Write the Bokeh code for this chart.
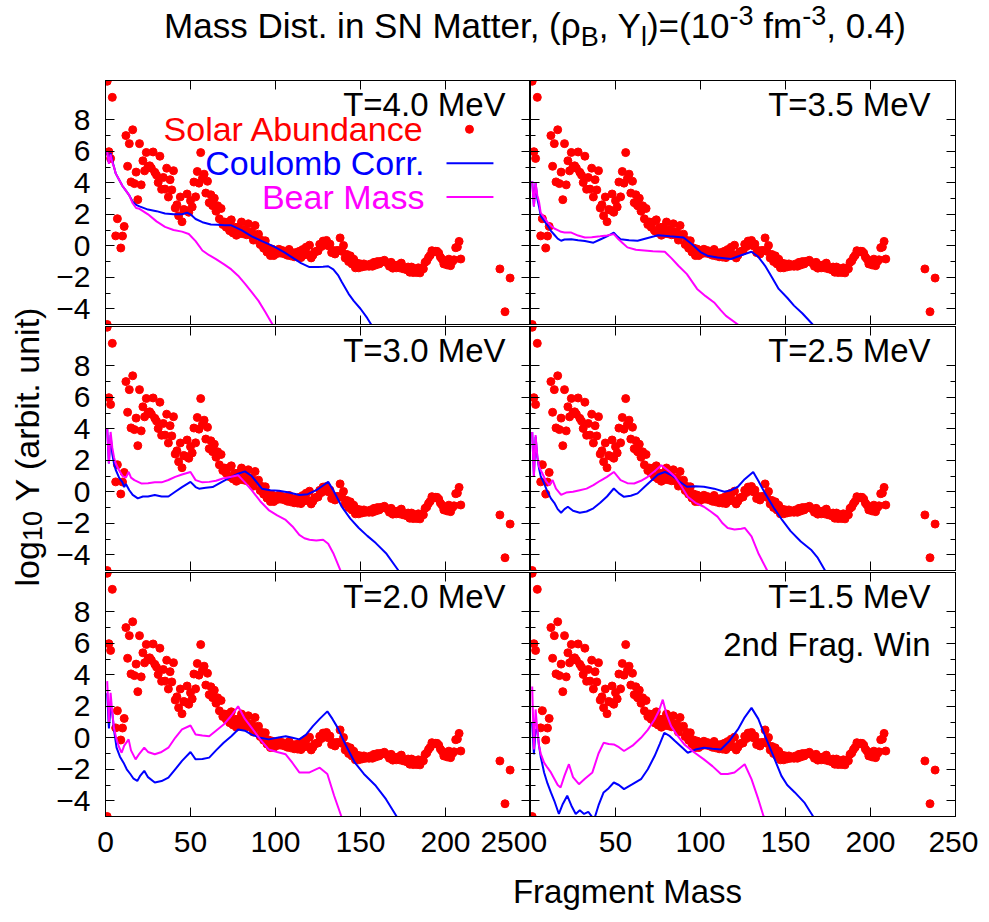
from bokeh.plotting import figure
from bokeh.layouts import column, row
from bokeh.models import Div, Label, FixedTicker, LinearAxis, Range1d
from bokeh.embed import file_html
from bokeh.resources import INLINE
import math

FONT = "Liberation Sans"

# ---------------- data ----------------
TEMPS = ["T=4.0 MeV", "T=3.5 MeV", "T=3.0 MeV", "T=2.5 MeV", "T=2.0 MeV", "T=1.5 MeV"]

SOLAR_A = [1, 1, 2, 3, 4, 6, 7, 9, 10, 11] + list(range(12, 210)) + [232, 235, 238]
SOLAR_LOGY = [10.45, -5.0, 5.98, 5.55, 9.43, 0.63, 1.72, -0.14, 0.62, 1.23,
    # 12-29
    7.00, 5.05, 6.49, 4.06, 7.37, 3.95, 4.68, 2.93, 6.49, 3.87, 5.40, 4.76, 5.93, 5.03, 5.08, 4.93, 5.96, 4.67,
    # 30-49
    4.49, 4.02, 5.69, 3.59, 4.34, 3.60, 4.93, 3.10, 4.20, 3.55, 4.77, 2.40, 2.60, 1.91, 3.10, 1.53, 2.31, 2.26, 3.29, 2.13,
    # 50-69
    2.86, 2.47, 4.05, 3.11, 4.72, 3.98, 5.92, 4.28, 4.55, 3.35, 4.10, 2.74, 3.24, 2.55, 3.02, 2.20, 2.54, 1.71, 2.37, 1.35,
    # 70-89
    1.51, 1.18, 1.51, 0.96, 1.65, 0.82, 1.18, 0.67, 1.18, 0.78, 1.51, 0.76, 1.03, 0.70, 1.40, 0.71, 0.89, 0.36, 1.29, 0.67,
    # 90-109
    0.74, 0.08, 0.34, -0.15, 0.32, -0.40, -0.14, -0.62, -0.21, -0.62, -0.32, -0.49, -0.22, -0.46, -0.30, -0.51, -0.42, -0.60, -0.23, -0.64,
    # 110-129
    -0.44, -0.70, -0.43, -0.72, -0.35, -0.75, -0.24, -0.58, -0.09, -0.54, 0.04, -0.77, -0.60, -0.40, -0.35, -0.33, 0.09, -0.05, 0.30, 0.09,
    # 130-149
    0.34, 0.00, 0.11, -0.43, -0.30, -0.52, -0.30, -0.30, 0.50, -0.35, 0.02, -0.77, -0.55, -1.00, -0.64, -1.15, -0.85, -1.40, -1.10, -1.40,
    # 150-169
    -1.15, -1.34, -1.15, -1.30, -1.22, -1.30, -1.15, -1.30, -1.05, -1.22, -1.00, -1.15, -0.99, -1.00, -0.92, -1.05, -1.10, -1.30, -1.05, -1.42,
    # 170-189
    -1.22, -1.40, -1.22, -1.40, -1.10, -1.46, -1.40, -1.52, -1.35, -1.68, -1.35, -1.70, -1.46, -1.70, -1.40, -1.72, -1.40, -1.46, -1.05, -0.96,
    # 190-209
    -0.74, -0.60, -0.31, -0.39, -0.35, -0.35, -0.46, -0.72, -0.85, -1.15, -1.00, -1.22, -0.85, -1.26, -1.00, -0.89, -0.12, -0.08, 0.28, -0.84,
    # 232, 235, 238
    -1.47, -4.19, -2.05]

# Coulomb-corrected mass (blue) and bare mass (magenta), (A, log10 Y)
COUL_40 = [(1,6.0),(2,5.3),(3,5.9),(4,5.4),(5,5.0),(6,4.6),(8,4.2),(10,3.8),(12,3.5),(14,3.2),(16,2.8),(18,2.6),(20,2.5),
           (25,2.3),(30,2.2),(35,2.05),(40,2.0),(45,2.0),(48,2.1),(50,2.0),(53,1.7),(57,1.5),(62,1.35),(66,1.33),(70,1.3),
           (74,1.3),(80,1.0),(86,0.6),(92,0.3),(96,0.1),(100,-0.1),(105,-0.4),(110,-0.75),(115,-1.1),(120,-1.35),(125,-1.35),
           (128,-1.33),(131,-1.3),(134,-1.5),(137,-1.9),(139,-2.3),(143,-3.05),(146,-3.5),(150,-4.0),(154,-4.6),(158,-5.3)]
BARE_40 = [(1,6.0),(2,5.2),(3,5.8),(4,5.3),(5,5.0),(6,4.6),(8,4.2),(10,3.8),(12,3.5),(14,3.2),(16,2.7),(18,2.4),(20,2.35),
           (25,2.0),(30,1.55),(35,1.2),(40,1.0),(45,0.9),(49,0.75),(53,0.3),(57,-0.3),(61,-0.6),(65,-0.85),(70,-1.2),
           (74,-1.5),(78,-1.9),(82,-2.4),(86,-2.95),(90,-3.5),(94,-4.2),(98,-4.95),(100,-5.4)]

COUL_35 = [(1,4.1),(2,2.5),(3,4.0),(4,3.0),(5,2.5),(6,1.9),(8,1.6),(10,1.3),(12,0.95),(14,0.7),(16,0.45),(18,0.32),(20,0.4),
           (24,0.42),(28,0.35),(32,0.3),(37,0.2),(41,0.4),(45,0.6),(49,0.84),(51,0.6),(53,0.42),(58,0.35),(63,0.32),(69,0.5),
           (75,0.67),(82,0.6),(90,0.53),(95,0.1),(100,-0.4),(104,-0.63),(110,-0.75),(118,-0.84),(124,-0.6),(130,-0.38),
           (134,-0.7),(138,-1.27),(142,-2.0),(146,-2.74),(151,-3.3),(155,-3.8),(160,-4.3),(166,-5.0),(168,-5.4)]
BARE_35 = [(1,4.1),(2,2.5),(3,4.0),(4,3.2),(5,2.8),(6,2.1),(8,1.8),(10,1.5),(12,1.27),(14,1.1),(16,1.0),(18,0.89),(20,0.85),
           (24,0.84),(28,0.65),(32,0.53),(36,0.55),(41,0.6),(45,0.65),(49,0.74),(51,0.5),(54,0.2),(57,-0.1),(62,-0.25),
           (67,-0.3),(72,-0.35),(79,-0.38),(83,-0.8),(87,-1.27),(92,-1.8),(98,-2.74),(103,-3.2),(108,-3.6),(112,-4.1),
           (115,-4.45),(122,-5.0),(124,-5.4)]

COUL_30 = [(1,4.0),(2,1.8),(3,3.6),(4,2.4),(5,1.8),(6,1.4),(8,0.9),(10,0.6),(11,0.3),(12,0.5),(14,0.1),(16,-0.2),(19,-0.42),
           (22,-0.3),(25,-0.3),(29,-0.2),(33,-0.3),(37,-0.3),(41,0.0),(45,0.3),(50,0.63),(53,0.3),(55,0.2),(59,0.25),
           (63,0.3),(68,0.6),(74,0.95),(78,1.15),(82,1.3),(86,1.0),(92,0.2),(97,0.1),(102,0.06),(108,-0.05),(114,-0.2),
           (119,-0.15),(124,0.1),(128,0.4),(131,0.63),(134,0.1),(139,-0.95),(144,-1.7),(149,-2.3),(154,-2.8),(159,-3.26),
           (165,-3.9),(172,-4.95),(174,-5.4)]
BARE_30 = [(1,4.0),(2,1.8),(3,3.8),(4,2.8),(5,2.2),(6,1.8),(8,1.37),(10,1.0),(12,0.9),(13.6,1.26),(15,0.9),(17,0.74),(21,0.53),
           (25,0.55),(29,0.6),(33,0.6),(37,0.75),(41,0.95),(45,1.1),(50,1.26),(53,0.74),(57,0.6),(61,0.63),(65,0.7),
           (69,0.84),(74,0.95),(78,1.05),(82,0.6),(86,0.1),(91,-0.6),(96,-1.16),(101,-1.5),(106,-1.79),(110,-2.2),
           (114,-2.74),(117,-2.95),(120,-3.05),(124,-3.1),(128,-3.05),(131,-3.3),(134,-3.9),(138,-4.95),(140,-5.4)]

COUL_25 = [(1,3.8),(2,1.0),(3,3.5),(4,2.2),(5,1.5),(6,1.0),(8,0.53),(10,0.0),(12,-0.42),(14,-0.7),(16,-1.1),(18,-1.33),
           (20,-1.1),(22,-0.95),(25,-1.2),(29,-1.33),(33,-1.25),(37,-1.05),(41,-0.7),(45,-0.3),(49,0.21),(52,-0.1),
           (55,-0.32),(59,-0.25),(63,-0.1),(67,0.3),(71,0.7),(75,1.1),(79,1.26),(83,1.05),(87,0.7),(92,0.32),(97,0.35),
           (102,0.32),(108,0.2),(114,0.0),(118,0.1),(122,0.32),(126,0.8),(131,1.26),(134,0.7),(138,-0.1),(143,-1.0),
           (148,-1.79),(153,-2.5),(159,-3.16),(165,-3.68),(169,-4.2),(173,-4.95),(175,-5.4)]
BARE_25 = [(1,3.8),(2,1.0),(3,3.6),(4,2.3),(5,1.6),(7,1.16),(9,0.7),(11,0.42),(13,0.74),(15,0.2),(18,-0.2),(21,-0.05),
           (25,0.0),(29,0.1),(33,0.2),(37,0.42),(41,0.7),(45,0.95),(49,1.26),(53,0.74),(57,0.55),(61,0.53),(65,0.7),
           (69,0.95),(73,1.3),(77,1.68),(81,1.35),(85,0.95),(89,0.3),(92.5,-0.32),(97,-0.7),(102,-0.95),(106,-1.25),
           (110,-1.58),(113,-2.0),(116,-2.3),(120,-2.4),(124,-2.35),(126,-2.3),(130,-2.84),(134,-3.9),(139,-4.95),(141,-5.4)]

COUL_20 = [(1,2.84),(2,0.6),(3,2.0),(4,1.58),(5,0.5),(6.5,-0.63),(8.5,-1.2),(10.6,-1.58),(12.5,-2.0),(14.6,-2.3),
           (16.5,-2.6),(18.7,-2.74),(20.5,-2.4),(22.8,-2.1),(25,-2.5),(29,-2.84),(33,-2.75),(37,-2.53),(41,-2.0),
           (45,-1.47),(50,-0.9),(53,-1.37),(57,-1.35),(61,-1.26),(65,-0.8),(69.5,-0.32),(74,0.1),(78,0.53),(82,0.45),
           (86,0.2),(91,0.0),(96,-0.1),(101,0.0),(106,0.1),(110,0.0),(114,-0.1),(118,0.2),(122,0.74),(126,1.2),
           (130.5,1.68),(133.5,1.2),(136.6,0.63),(141,-0.4),(146.7,-1.58),(152,-2.3),(159,-3.05),(165,-3.9),(171,-4.95),(173,-5.4)]
BARE_20 = [(1,3.6),(2,1.0),(3,2.85),(4,1.6),(5,0.6),(6.5,-0.1),(8,-0.6),(9.5,-0.95),(11,-0.5),(13.6,-0.1),(15,-0.8),
           (17.7,-1.37),(20,-1.0),(22.8,-0.63),(25,-0.9),(29,-1.05),(33,-0.9),(37,-0.63),(41,0.0),(45,0.53),(50,0.78),
           (53,0.21),(57,0.15),(61,0.1),(65,0.45),(69.5,0.84),(74,1.4),(78,2.0),(82,1.2),(86,0.63),(91,-0.1),(96,-0.74),
           (101,-0.9),(106,-1.05),(110,-1.6),(114,-2.2),(120,-2.2),(126,-1.9),(130.5,-2.3),(134.5,-3.68),(138.6,-4.95),(140,-5.4)]

COUL_15 = [(1,0.95),(2,-1.05),(3,0.5),(4,0.53),(5,-0.5),(6,-1.2),(8,-2.2),(10,-2.9),(12,-3.47),(14,-4.0),(16.7,-4.84),
           (19,-4.2),(21.6,-3.68),(24,-4.3),(26.6,-4.84),(29,-4.6),(31.5,-4.84),(34,-4.7),(37.4,-5.2),(40,-4.3),
           (43,-3.47),(46,-3.2),(49,-2.84),(52,-3.0),(55,-3.26),(60,-2.95),(65,-2.63),(69,-2.0),(73,-1.16),(76,-0.4),
           (78.7,0.32),(82,0.1),(85,-0.21),(90,-0.7),(92.5,-0.95),(97,-0.75),(102,-0.63),(107,-0.7),(112,-0.74),
           (117,-0.2),(122,0.53),(126,1.3),(130,1.9),(134,1.2),(138,0.1),(143,-1.2),(147.6,-2.42),(151,-3.0),
           (155.5,-3.47),(161,-4.1),(166,-4.95),(168,-5.4)]
BARE_15 = [(1,3.26),(2,-0.74),(3,1.8),(4,0.5),(5,-0.5),(6,-1.0),(8,-1.58),(10,-1.9),(12,-2.2),(14,-2.6),(16,-3.0),
           (17.7,-3.16),(20,-2.4),(22.6,-1.68),(25,-2.5),(28.5,-2.95),(32,-2.6),(36.4,-2.2),(40,-1.0),(43,-0.32),
           (46,-0.4),(49,-0.42),(52,-0.6),(55,-0.84),(60,-0.5),(65,0.0),(69,0.5),(73,1.16),(75.5,1.7),(77.8,2.42),
           (80,1.5),(82.7,0.74),(86,0.2),(90.5,-0.42),(96,-0.9),(102,-1.37),(107,-1.8),(112,-2.3),(116,-2.3),
           (120,-2.2),(126,-1.68),(130,-2.63),(134,-3.9),(137,-4.95),(139,-5.4)]

COULOMB = [COUL_40, COUL_35, COUL_30, COUL_25, COUL_20, COUL_15]
BARE = [BARE_40, BARE_35, BARE_30, BARE_25, BARE_20, BARE_15]

X_TICKS = [0, 50, 100, 150, 200, 250]
Y_TICKS = [-4, -2, 0, 2, 4, 6, 8]
Y_MINOR = [-3, -1, 1, 3, 5, 7]
KEY_LABELS = ["Solar Abundance", "Coulomb Corr.", "Bear Mass"]

RED, BLUE, MAGENTA = "#ff0000", "#0000ff", "#ff00ff"

# ---------------- layout constants ----------------
FW, FH = 425, 244
GAP = 2
X0, X1, Y0, Y1 = 0, 250, -5, 10.5


def style_axis(ax, ticks, minor, labels):
    ax.ticker = FixedTicker(ticks=ticks, minor_ticks=minor)
    ax.major_tick_in = 9
    ax.major_tick_out = 0
    ax.minor_tick_in = 5
    ax.minor_tick_out = 0
    ax.axis_line_color = "black"
    ax.major_tick_line_color = "black"
    ax.minor_tick_line_color = "black"
    if labels:
        ax.major_label_text_font = FONT
        ax.major_label_text_font_size = "30px"
        ax.major_label_text_color = "black"
        ax.major_label_standoff = 15
    else:
        ax.major_label_overrides = {t: "" for t in ticks}
        ax.major_label_text_font_size = "1px"
        ax.major_label_standoff = 0


def txt(x, y, s, size, color="black", align="right", angle=0.0):
    return Label(x=x, y=y, text=s, text_align=align, text_baseline="middle", angle=angle,
                 text_font=FONT, text_font_size=size, text_color=color)


def panel(i):
    col = i % 2
    rw = i // 2
    bottom = rw == 2
    p = figure(frame_width=FW, frame_height=FH,
               x_range=Range1d(X0, X1), y_range=Range1d(Y0, Y1),
               toolbar_location=None, output_backend="svg",
               min_border_left=52 if col == 0 else 0,
               min_border_right=0 if col == 0 else 23,
               min_border_top=0, min_border_bottom=50 if bottom else GAP,
               background_fill_color="white", border_fill_color="white")
    p.grid.visible = False
    p.outline_line_color = "black"
    p.outline_line_width = 1
    style_axis(p.xaxis[0], X_TICKS, [], bottom)
    style_axis(p.yaxis[0], Y_TICKS, Y_MINOR, col == 0)
    top_ax = LinearAxis()
    style_axis(top_ax, X_TICKS, [], False)
    p.add_layout(top_ax, "above")
    right_ax = LinearAxis()
    style_axis(right_ax, Y_TICKS, Y_MINOR, False)
    p.add_layout(right_ax, "right")

    p.scatter(SOLAR_A, SOLAR_LOGY, size=8, marker="circle", fill_color=RED, line_color=RED)
    ca, cy = zip(*COULOMB[i])
    p.line(list(ca), list(cy), line_color=BLUE, line_width=2)
    ba, by = zip(*BARE[i])
    p.line(list(ba), list(by), line_color=MAGENTA, line_width=2)

    p.add_layout(txt(235.3, 9.0, TEMPS[i], "33px"))
    if i == 5:
        p.add_layout(txt(235.3, 5.91, "2nd Frag. Win", "33px"))
    if i == 0:
        # gnuplot-style key: right-aligned text with sample to its right
        key_y = [7.40, 5.25, 3.10]
        cols = [RED, BLUE, MAGENTA]
        for lab, yy, c in zip(KEY_LABELS, key_y, cols):
            p.add_layout(txt(187.6, yy, lab, "34px", color=c))
        p.scatter([214.1], [key_y[0]], size=8, marker="circle", fill_color=RED, line_color=RED)
        p.line([200.6, 228.2], [key_y[1], key_y[1]], line_color=BLUE, line_width=2)
        p.line([200.6, 228.2], [key_y[2], key_y[2]], line_color=MAGENTA, line_width=2)
    return p


panels = [panel(i) for i in range(6)]

# y-axis title strip
YW = 53
YH = 3 * FH + 2 * GAP
ylab = figure(frame_width=YW, frame_height=YH, x_range=Range1d(0, YW), y_range=Range1d(0, YH),
              toolbar_location=None, output_backend="svg", min_border=0,
              x_axis_location=None, y_axis_location=None, outline_line_color=None)
ylab.grid.visible = False
yc, ystart = 26, 230
ylab.add_layout(txt(yc, ystart, "log", "34px", align="left", angle=math.pi / 2))
ylab.add_layout(txt(yc + 6, ystart + 45.4, "10", "27px", align="left", angle=math.pi / 2))
ylab.add_layout(txt(yc, ystart + 45.4 + 30.0 + 9.5, "Y (arbit. unit)", "34px", align="left", angle=math.pi / 2))

# x-axis title strip
XW = YW + 52 + 2 * FW + 23
xlab = figure(frame_width=XW, frame_height=45, x_range=Range1d(0, XW), y_range=Range1d(0, 45),
              toolbar_location=None, output_backend="svg", min_border=0,
              x_axis_location=None, y_axis_location=None, outline_line_color=None)
xlab.grid.visible = False
xlab.add_layout(txt(627, 20, "Fragment Mass", "33px", align="center"))

title_html = ("<div style=\"box-sizing:border-box;width:973px;padding-left:87px;padding-top:2px;"
              "text-align:center;font-family:'Liberation Sans',Arial,sans-serif;font-size:35px;"
              "line-height:38px;color:#000;white-space:nowrap\">"
              "Mass Dist. in SN Matter, (&rho;<span style=\"font-size:27px;position:relative;top:8px\">B</span>, "
              "Y<span style=\"font-size:27px;position:relative;top:8px\">l</span>)=(10"
              "<span style=\"font-size:27px;position:relative;top:-13px\">-3</span> fm"
              "<span style=\"font-size:27px;position:relative;top:-13px\">-3</span>, 0.4)</div>")
title = Div(text=title_html, width=973, height=70)

grid = column(row(panels[0], panels[1]), row(panels[2], panels[3]), row(panels[4], panels[5]))
layout = column(title, row(ylab, grid), xlab)

open("out.html", "w").write(file_html(layout, INLINE))
